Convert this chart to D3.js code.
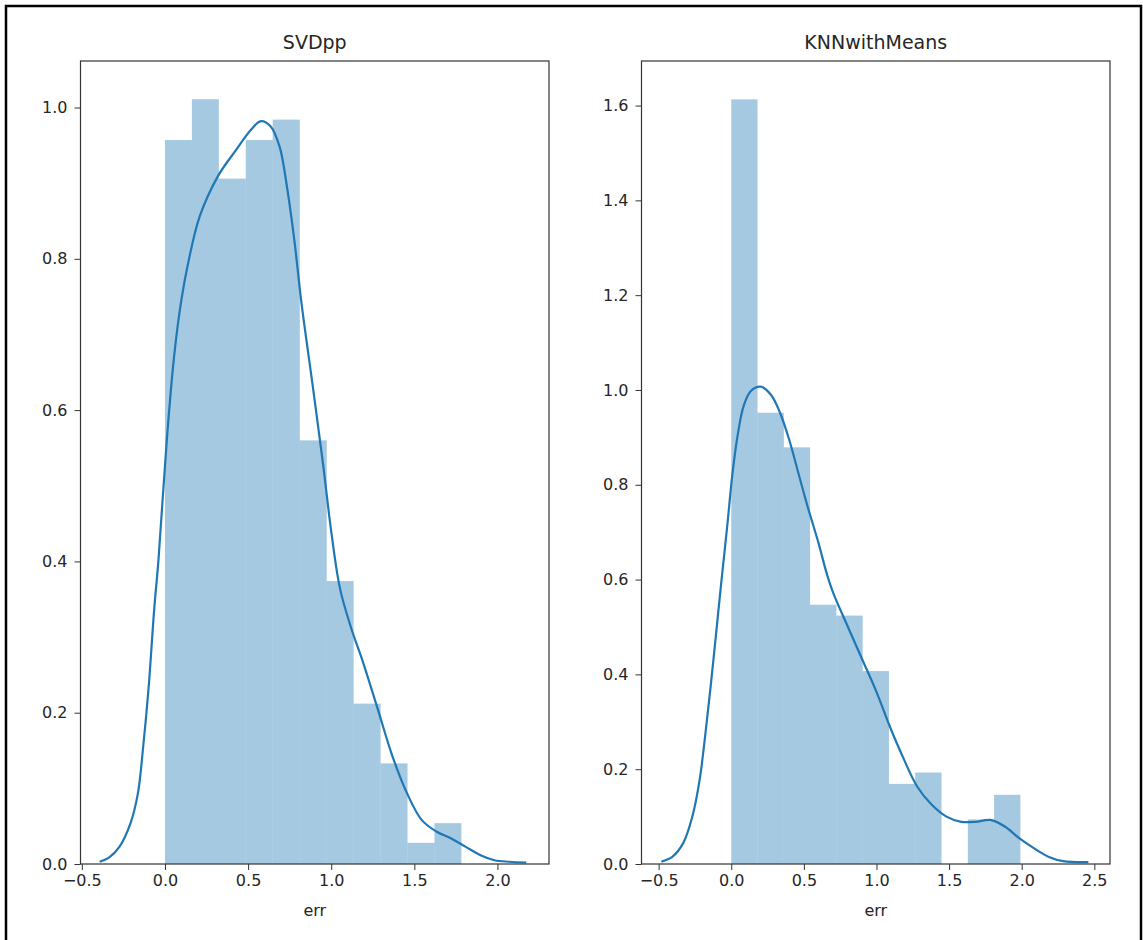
<!DOCTYPE html>
<html>
<head>
<meta charset="utf-8">
<script src="https://cdn.jsdelivr.net/npm/d3@7"></script>
<style>
  body { margin: 0; background: #fff; }
  svg text { font-family: "DejaVu Sans", sans-serif; fill: #262626; }
</style>
</head>
<body>
<svg id="chart" width="1143" height="940"></svg>
<script>
// ---------------- data ----------------
const titles = ["SVDpp", "KNNwithMeans"];
const xLabel = "err";

// histogram bin edges and densities
const svdBinEdges = [0.000, 0.162, 0.324, 0.486, 0.648, 0.811, 0.973, 1.135, 1.297, 1.459, 1.621, 1.783];
const svdDensity  = [0.957, 1.011, 0.906, 0.957, 0.984, 0.560, 0.374, 0.212, 0.133, 0.028, 0.054];

const knnBinEdges = [0.000, 0.181, 0.362, 0.543, 0.724, 0.905, 1.086, 1.267, 1.448, 1.629, 1.810, 1.991];
const knnDensity  = [1.613, 0.952, 0.879, 0.547, 0.524, 0.407, 0.169, 0.193, 0.000, 0.094, 0.146];

// KDE curve points
const svdKdeX = [-0.393, -0.339, -0.273, -0.207, -0.163, -0.131, -0.098, -0.065, -0.039, 0.011, 0.055, 0.099,
  0.143, 0.209, 0.318, 0.428, 0.515, 0.577, 0.636, 0.690, 0.734, 0.778, 0.822, 0.887, 0.953, 0.997, 1.052,
  1.117, 1.194, 1.281, 1.369, 1.457, 1.545, 1.632, 1.719, 1.807, 1.895, 1.982, 2.070, 2.173];
const svdKdeY = [0.003, 0.008, 0.023, 0.054, 0.093, 0.155, 0.234, 0.336, 0.402, 0.560, 0.671, 0.746,
  0.798, 0.856, 0.909, 0.944, 0.970, 0.982, 0.975, 0.948, 0.895, 0.825, 0.740, 0.635, 0.525, 0.445, 0.365,
  0.314, 0.265, 0.204, 0.142, 0.093, 0.058, 0.043, 0.034, 0.023, 0.012, 0.005, 0.003, 0.002];

const knnKdeX = [-0.481, -0.406, -0.331, -0.268, -0.218, -0.180, -0.142, -0.104, -0.070, -0.028, 0.009, 0.047,
  0.085, 0.135, 0.203, 0.273, 0.336, 0.399, 0.462, 0.525, 0.601, 0.660, 0.702, 0.802, 0.903, 1.004, 1.092,
  1.180, 1.281, 1.381, 1.482, 1.583, 1.683, 1.784, 1.884, 1.985, 2.086, 2.187, 2.287, 2.459];
const knnKdeY = [0.005, 0.015, 0.044, 0.100, 0.177, 0.269, 0.374, 0.487, 0.590, 0.712, 0.825, 0.910,
  0.966, 0.998, 1.007, 0.990, 0.952, 0.895, 0.825, 0.755, 0.677, 0.610, 0.572, 0.501, 0.431, 0.360, 0.290,
  0.227, 0.163, 0.125, 0.100, 0.089, 0.089, 0.093, 0.079, 0.054, 0.033, 0.015, 0.006, 0.004];

// axis ranges and tick values
const svdXDomain = [-0.508, 2.310];
const svdYDomain = [0, 1.0615];
const knnXDomain = [-0.618, 2.608];
const knnYDomain = [0, 1.694];
const svdXTicks = [-0.5, 0.0, 0.5, 1.0, 1.5, 2.0];
const svdYTicks = [0.0, 0.2, 0.4, 0.6, 0.8, 1.0];
const knnXTicks = [-0.5, 0.0, 0.5, 1.0, 1.5, 2.0, 2.5];
const knnYTicks = [0.0, 0.2, 0.4, 0.6, 0.8, 1.0, 1.2, 1.4, 1.6];

// ---------------- drawing ----------------
const svg = d3.select("#chart");
const barColor = "#1f77b4";
const lineColor = "#1f77b4";
const spineColor = "#333";

// outer frame
svg.append("rect").attr("x", 6).attr("y", 6).attr("width", 1135).attr("height", 980)
  .attr("fill", "none").attr("stroke", "#000").attr("stroke-width", 2.5);

const panels = [
  { title: titles[0], edges: svdBinEdges, dens: svdDensity, kx: svdKdeX, ky: svdKdeY,
    xd: svdXDomain, yd: svdYDomain, xt: svdXTicks, yt: svdYTicks, left: 80.5, right: 549 },
  { title: titles[1], edges: knnBinEdges, dens: knnDensity, kx: knnKdeX, ky: knnKdeY,
    xd: knnXDomain, yd: knnYDomain, xt: knnXTicks, yt: knnYTicks, left: 641.5, right: 1110 }
];
const axTop = 61, axBottom = 864;
const fmt = d3.format(".1f");

panels.forEach(p => {
  const x = d3.scaleLinear().domain(p.xd).range([p.left, p.right]);
  const y = d3.scaleLinear().domain(p.yd).range([axBottom, axTop]);
  const g = svg.append("g");

  // bars
  g.selectAll("rect.bar").data(p.dens).join("rect").attr("class", "bar")
    .attr("x", (d, i) => x(p.edges[i]))
    .attr("width", (d, i) => x(p.edges[i + 1]) - x(p.edges[i]))
    .attr("y", d => y(d))
    .attr("height", d => y(0) - y(d))
    .attr("fill", barColor).attr("fill-opacity", 0.4);

  // kde line
  const pts = p.kx.map((v, i) => [v, p.ky[i]]);
  const line = d3.line().x(d => x(d[0])).y(d => y(d[1])).curve(d3.curveCatmullRom.alpha(0.5));
  g.append("path").datum(pts).attr("d", line)
    .attr("fill", "none").attr("stroke", lineColor).attr("stroke-width", 2.2);

  // axes
  const xAxis = d3.axisBottom(x).tickValues(p.xt).tickFormat(fmt).tickSize(6).tickPadding(5).tickSizeOuter(0);
  const yAxis = d3.axisLeft(y).tickValues(p.yt).tickFormat(fmt).tickSize(6).tickPadding(7).tickSizeOuter(0);
  const gx = g.append("g").attr("transform", `translate(0,${axBottom})`).call(xAxis);
  const gy = g.append("g").attr("transform", `translate(${p.left},0)`).call(yAxis);
  [gx, gy].forEach(a => {
    a.select(".domain").remove();
    a.selectAll(".tick line").attr("stroke", spineColor).attr("stroke-width", 1);
    a.selectAll(".tick text").style("font-size", "16px").attr("fill", "#262626")
      .style("font-family", "DejaVu Sans, sans-serif");
  });

  // spines box
  g.append("rect").attr("x", p.left).attr("y", axTop)
    .attr("width", p.right - p.left).attr("height", axBottom - axTop)
    .attr("fill", "none").attr("stroke", spineColor).attr("stroke-width", 1.2);

  // title
  g.append("text").attr("x", (p.left + p.right) / 2).attr("y", 49)
    .attr("text-anchor", "middle").style("font-size", "19px").text(p.title);

  // x label
  g.append("text").attr("x", (p.left + p.right) / 2).attr("y", 916)
    .attr("text-anchor", "middle").style("font-size", "16px").text(xLabel);
});
</script>
</body>
</html>
